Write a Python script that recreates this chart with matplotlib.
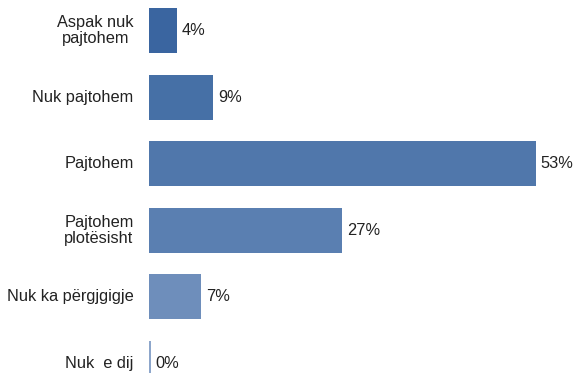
import matplotlib
matplotlib.use("Agg")
from matplotlib import pyplot as plt

# data
categories = [
    "Aspak nuk\npajtohem",
    "Nuk pajtohem",
    "Pajtohem",
    "Pajtohem\nplotësisht",
    "Nuk ka përgjgigje",
    "Nuk  e dij",
]
values = [3.8, 8.8, 53.0, 26.4, 7.1, 0.25]
value_labels = ["4%", "9%", "53%", "27%", "7%", "0%"]
colors = ["#3A65A0", "#4670A6", "#5077AB", "#5A7FB1", "#6E8EBB", "#8DA6CB"]

plt.rcParams["font.family"] = ["Liberation Sans", "DejaVu Sans"]

fig = plt.figure(figsize=(5.74, 3.73), dpi=100)
ax = fig.add_axes([149 / 574, 0, 1 - 149 / 574, 1])

ypos = list(range(len(categories)))
ax.barh(ypos, values, height=0.676, color=colors)

for y, v, lab in zip(ypos, values, value_labels):
    ax.annotate(lab, (v, y), xytext=(3.5, 0), textcoords="offset points",
                ha="left", va="center", fontsize=11.8, color="#222222")

ax.set_xlim(0, 58.2)
ax.set_ylim(5.143, -0.458)
ax.set_yticks(ypos)
ax.set_yticklabels(categories, fontsize=11.8, color="#222222",
                   multialignment="center", linespacing=1.05, va="center")
ax.tick_params(axis="y", length=0, pad=11)
ax.set_xticks([])
for s in ax.spines.values():
    s.set_visible(False)

fig.savefig("out.png", dpi=100)
